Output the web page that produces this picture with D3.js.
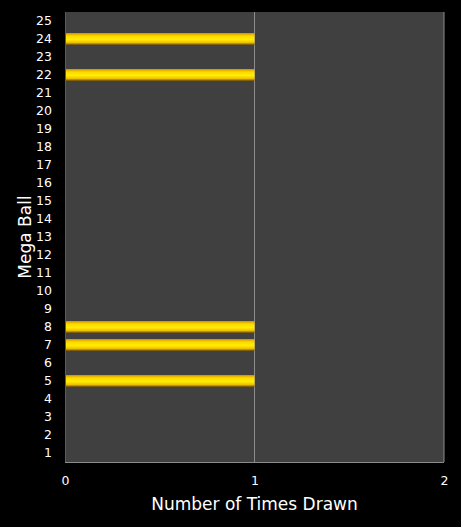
<!DOCTYPE html>
<html>
<head>
<meta charset="utf-8">
<script src="https://cdn.jsdelivr.net/npm/d3@7"></script>
<style>
  html, body { margin: 0; padding: 0; background: #000; }
  svg { display: block; font-family: "DejaVu Sans", Verdana, sans-serif; }
</style>
</head>
<body>
<svg id="chart" width="461" height="527"></svg>
<script>
// mega ball numbers 1..25, bottom to top
var balls = d3.range(1, 26);
// times drawn for each ball
var drawn = [0, 0, 0, 0, 1, 0, 1, 1, 0, 0, 0, 0, 0, 0, 0, 0, 0, 0, 0, 0, 0, 1, 0, 1, 0];
var xTicks = [0, 1, 2];

var W = 461, H = 527;
var m = { top: 12, right: 17, bottom: 65, left: 65 };
var svg = d3.select('#chart');

var x = d3.scaleLinear().domain([0, 2]).range([m.left, W - m.right]);
var y = d3.scaleBand().domain(balls.slice().reverse()).range([m.top, H - m.bottom]).paddingInner(0.34).paddingOuter(0.17);

// gold bar gradient (light top -> bright mid -> dark bottom edge)
var defs = svg.append('defs');
var grad = defs.append('linearGradient').attr('id', 'gold').attr('x1', 0).attr('y1', 0).attr('x2', 0).attr('y2', 1);
grad.append('stop').attr('offset', '0%').attr('stop-color', '#d29a00');
grad.append('stop').attr('offset', '25%').attr('stop-color', '#ffd800');
grad.append('stop').attr('offset', '55%').attr('stop-color', '#ffee00');
grad.append('stop').attr('offset', '80%').attr('stop-color', '#eec000');
grad.append('stop').attr('offset', '100%').attr('stop-color', '#6b4a00');

// plot area
svg.append('rect')
    .attr('x', x(0)).attr('y', m.top)
    .attr('width', x(2) - x(0)).attr('height', H - m.bottom - m.top)
    .attr('fill', '#404040');

// vertical gridlines
svg.append('g').selectAll('line').data([1, 2]).join('line')
    .attr('x1', function (d) { return x(d); }).attr('x2', function (d) { return x(d); })
    .attr('y1', m.top).attr('y2', H - m.bottom)
    .attr('stroke', '#8c8c8c').attr('stroke-width', 1);

// axis lines
svg.append('line')
    .attr('x1', x(0)).attr('x2', x(2))
    .attr('y1', H - m.bottom + 0.5).attr('y2', H - m.bottom + 0.5)
    .attr('stroke', '#8c8c8c');
svg.append('line')
    .attr('x1', x(0) + 0.5).attr('x2', x(0) + 0.5)
    .attr('y1', m.top).attr('y2', H - m.bottom)
    .attr('stroke', '#5a5a5a');

// bars
svg.append('g').selectAll('rect').data(balls.filter(function (b, i) { return drawn[i] > 0; })).join('rect')
    .attr('x', x(0) + 1)
    .attr('y', function (d) { return y(d); })
    .attr('width', function (d) { return x(drawn[d - 1]) - x(0) - 1; })
    .attr('height', y.bandwidth())
    .attr('fill', 'url(#gold)');

// y axis
var yAxis = svg.append('g')
    .attr('transform', 'translate(' + (m.left - 13) + ',0)')
    .call(d3.axisLeft(y).tickSize(0).tickPadding(0));
yAxis.select('.domain').remove();
yAxis.selectAll('text').attr('fill', '#fff').attr('font-size', 12.5).attr('font-family', '"DejaVu Sans", sans-serif');

// x axis
var xAxis = svg.append('g')
    .attr('transform', 'translate(0,' + (H - m.bottom + 11) + ')')
    .call(d3.axisBottom(x).tickValues(xTicks).tickFormat(d3.format('d')).tickSize(0).tickPadding(3));
xAxis.select('.domain').remove();
xAxis.selectAll('text').attr('fill', '#fff').attr('font-size', 12.5).attr('font-family', '"DejaVu Sans", sans-serif');

// titles
svg.append('text')
    .attr('x', x(1)).attr('y', 510)
    .attr('text-anchor', 'middle')
    .attr('fill', '#fff').attr('font-size', 17)
    .text('Number of Times Drawn');
svg.append('text')
    .attr('transform', 'translate(31,' + ((m.top + H - m.bottom) / 2) + ') rotate(-90)')
    .attr('text-anchor', 'middle')
    .attr('fill', '#fff').attr('font-size', 17)
    .text('Mega Ball');
</script>
</body>
</html>
